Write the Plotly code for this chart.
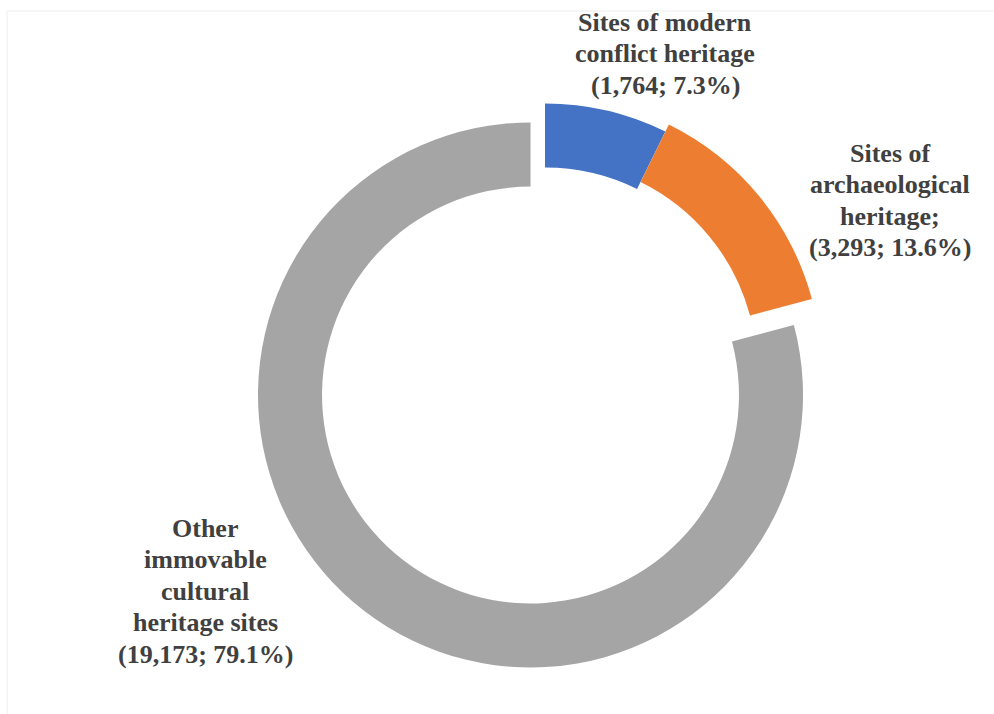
import plotly.graph_objects as go

# ---- data ----
categories = ["Sites of modern conflict heritage",
              "Sites of archaeological heritage",
              "Other immovable cultural heritage sites"]
counts = [1764, 3293, 19173]
shares = ["7.3%", "13.6%", "79.1%"]
colors = ["#4472C4", "#ED7D31", "#A5A5A5"]
label_lines = [
    ["Sites of modern", "conflict heritage", "(1,764; 7.3%)"],
    ["Sites of", "archaeological", "heritage;", "(3,293; 13.6%)"],
    ["Other", "immovable", "cultural", "heritage sites", "(19,173; 79.1%)"],
]

# ---- layout constants (pixels) ----
W, H = 994, 714
CX, CY, R = 530.5, 395.0, 272.5      # donut centre / outer radius
HOLE = 0.765
# explosion offsets (dx, dy in px, screen coords) per slice
offsets = [(14.5, -19.0), (18.0, -26.0), (0.0, 0.0)]

def domain(dx, dy):
    x0 = (CX + dx - R) / W
    x1 = (CX + dx + R) / W
    y0 = 1 - (CY + dy + R) / H
    y1 = 1 - (CY + dy - R) / H
    return dict(x=[x0, x1], y=[y0, y1])

fig = go.Figure()
for i, (dx, dy) in enumerate(offsets):
    cols = [c if j == i else "rgba(0,0,0,0)" for j, c in enumerate(colors)]
    fig.add_trace(go.Pie(
        labels=categories, values=counts, sort=False, direction="clockwise",
        rotation=0, hole=HOLE, domain=domain(dx, dy),
        marker=dict(colors=cols, line=dict(width=0)),
        textinfo="none", showlegend=False,
        hoverinfo="label+value+percent" if True else None,
    ))

# labels
font = dict(family="Liberation Serif", size=26, color="#404040")
label_pos = [(665, 22), (890, 153), (205, 528)]
spacing = 31.5
for lines, (lx, ly) in zip(label_lines, label_pos):
    for k, t in enumerate(lines):
        fig.add_annotation(text="<b>%s</b>" % t, x=lx / W, y=1 - (ly + k * spacing) / H,
                           xref="paper", yref="paper", showarrow=False,
                           xanchor="center", yanchor="middle", font=font)

# faint frame
fig.add_shape(type="rect", xref="paper", yref="paper",
              x0=7 / W, x1=1.01, y0=-0.01, y1=1 - 11 / H,
              line=dict(color="#EDEDED", width=1))

fig.update_layout(width=W, height=H, margin=dict(l=0, r=0, t=0, b=0),
                  paper_bgcolor="white", plot_bgcolor="white")
fig.write_html("out.html")
